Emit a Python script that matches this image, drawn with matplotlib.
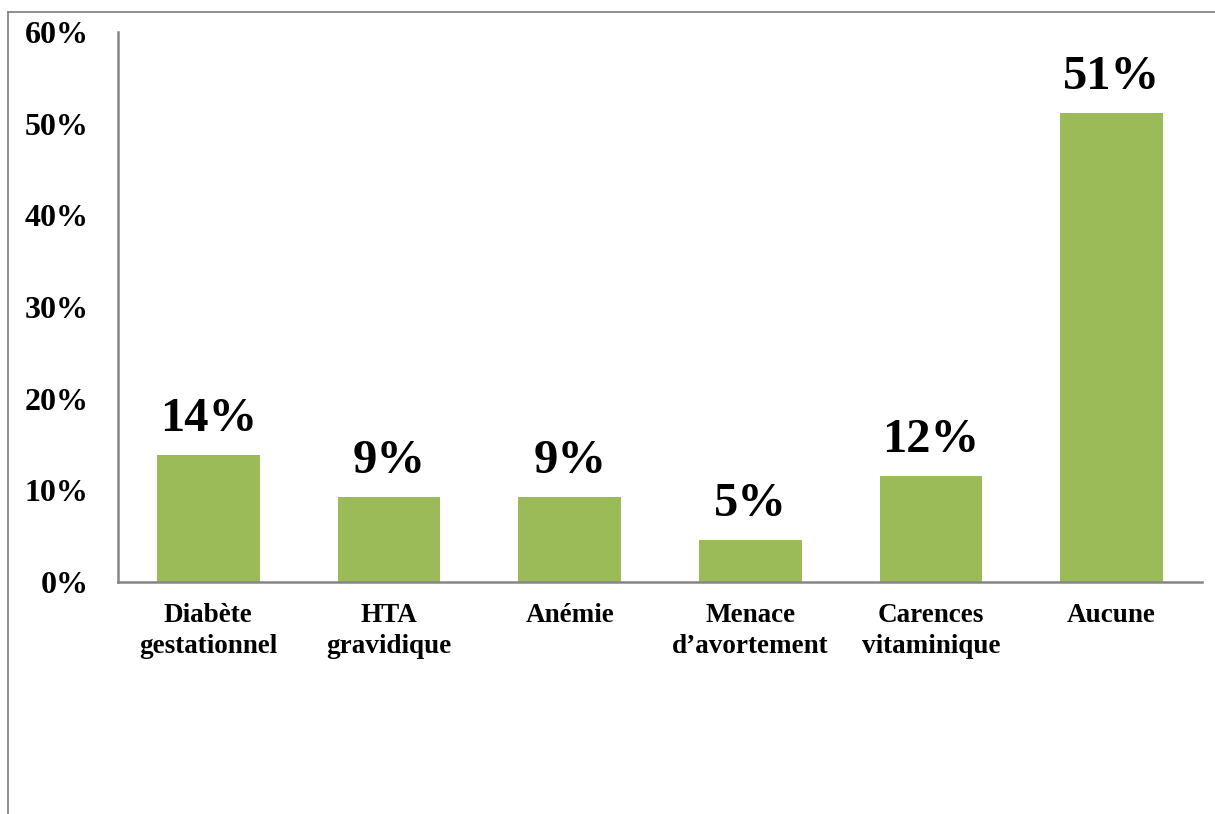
import matplotlib
matplotlib.use("Agg")
import matplotlib.pyplot as plt
from matplotlib.lines import Line2D

categories = ["Diabète\ngestationnel", "HTA\ngravidique", "Anémie",
              "Menace\nd\u2019avortement", "Carences\nvitaminique", "Aucune"]
values = [13.9, 9.3, 9.3, 4.6, 11.6, 51.2]
yticks = [0, 10, 20, 30, 40, 50, 60]
ytick_labels = [f"{t}%" for t in yticks]

bar_color = "#9BBB59"
line_color = "#868686"

plt.rcParams["font.family"] = ["Liberation Serif", "DejaVu Serif"]
plt.rcParams["font.weight"] = "bold"

fig = plt.figure(figsize=(12.15, 8.14), dpi=100)
ax = fig.add_axes([118 / 1215, 1 - 582 / 814, (1202 - 118) / 1215, (582 - 32) / 814])

x = range(len(categories))
bars = ax.bar(x, values, width=0.57, color=bar_color, zorder=2)

for xi, v in zip(x, values):
    ax.annotate(f"{v:.0f}%", xy=(xi, v), xytext=(0, 10), textcoords="offset points",
                ha="center", va="bottom", fontsize=35, fontweight="bold")

ax.set_xlim(-0.5, len(categories) - 0.5)
ax.set_ylim(0, 60)
ax.set_yticks(yticks)
ax.set_yticklabels(ytick_labels, fontsize=23, fontweight="bold")
ax.set_xticks(list(x))
ax.set_xticklabels(categories, fontsize=19.5, fontweight="bold", linespacing=1.3)
ax.tick_params(axis="y", length=0, pad=21)
ax.tick_params(axis="x", length=0, pad=15)

for side in ["top", "right"]:
    ax.spines[side].set_visible(False)
for side in ["left", "bottom"]:
    ax.spines[side].set_color(line_color)
    ax.spines[side].set_linewidth(1.8)

# outer chart-area frame
fx = 8 / 1215
fy = 1 - 12 / 814
fig.add_artist(Line2D([fx, fx], [0, fy], transform=fig.transFigure, color=line_color, lw=1.3))
fig.add_artist(Line2D([fx, 1], [fy, fy], transform=fig.transFigure, color=line_color, lw=1.3))

fig.savefig("out.png", dpi=100, facecolor="white")
